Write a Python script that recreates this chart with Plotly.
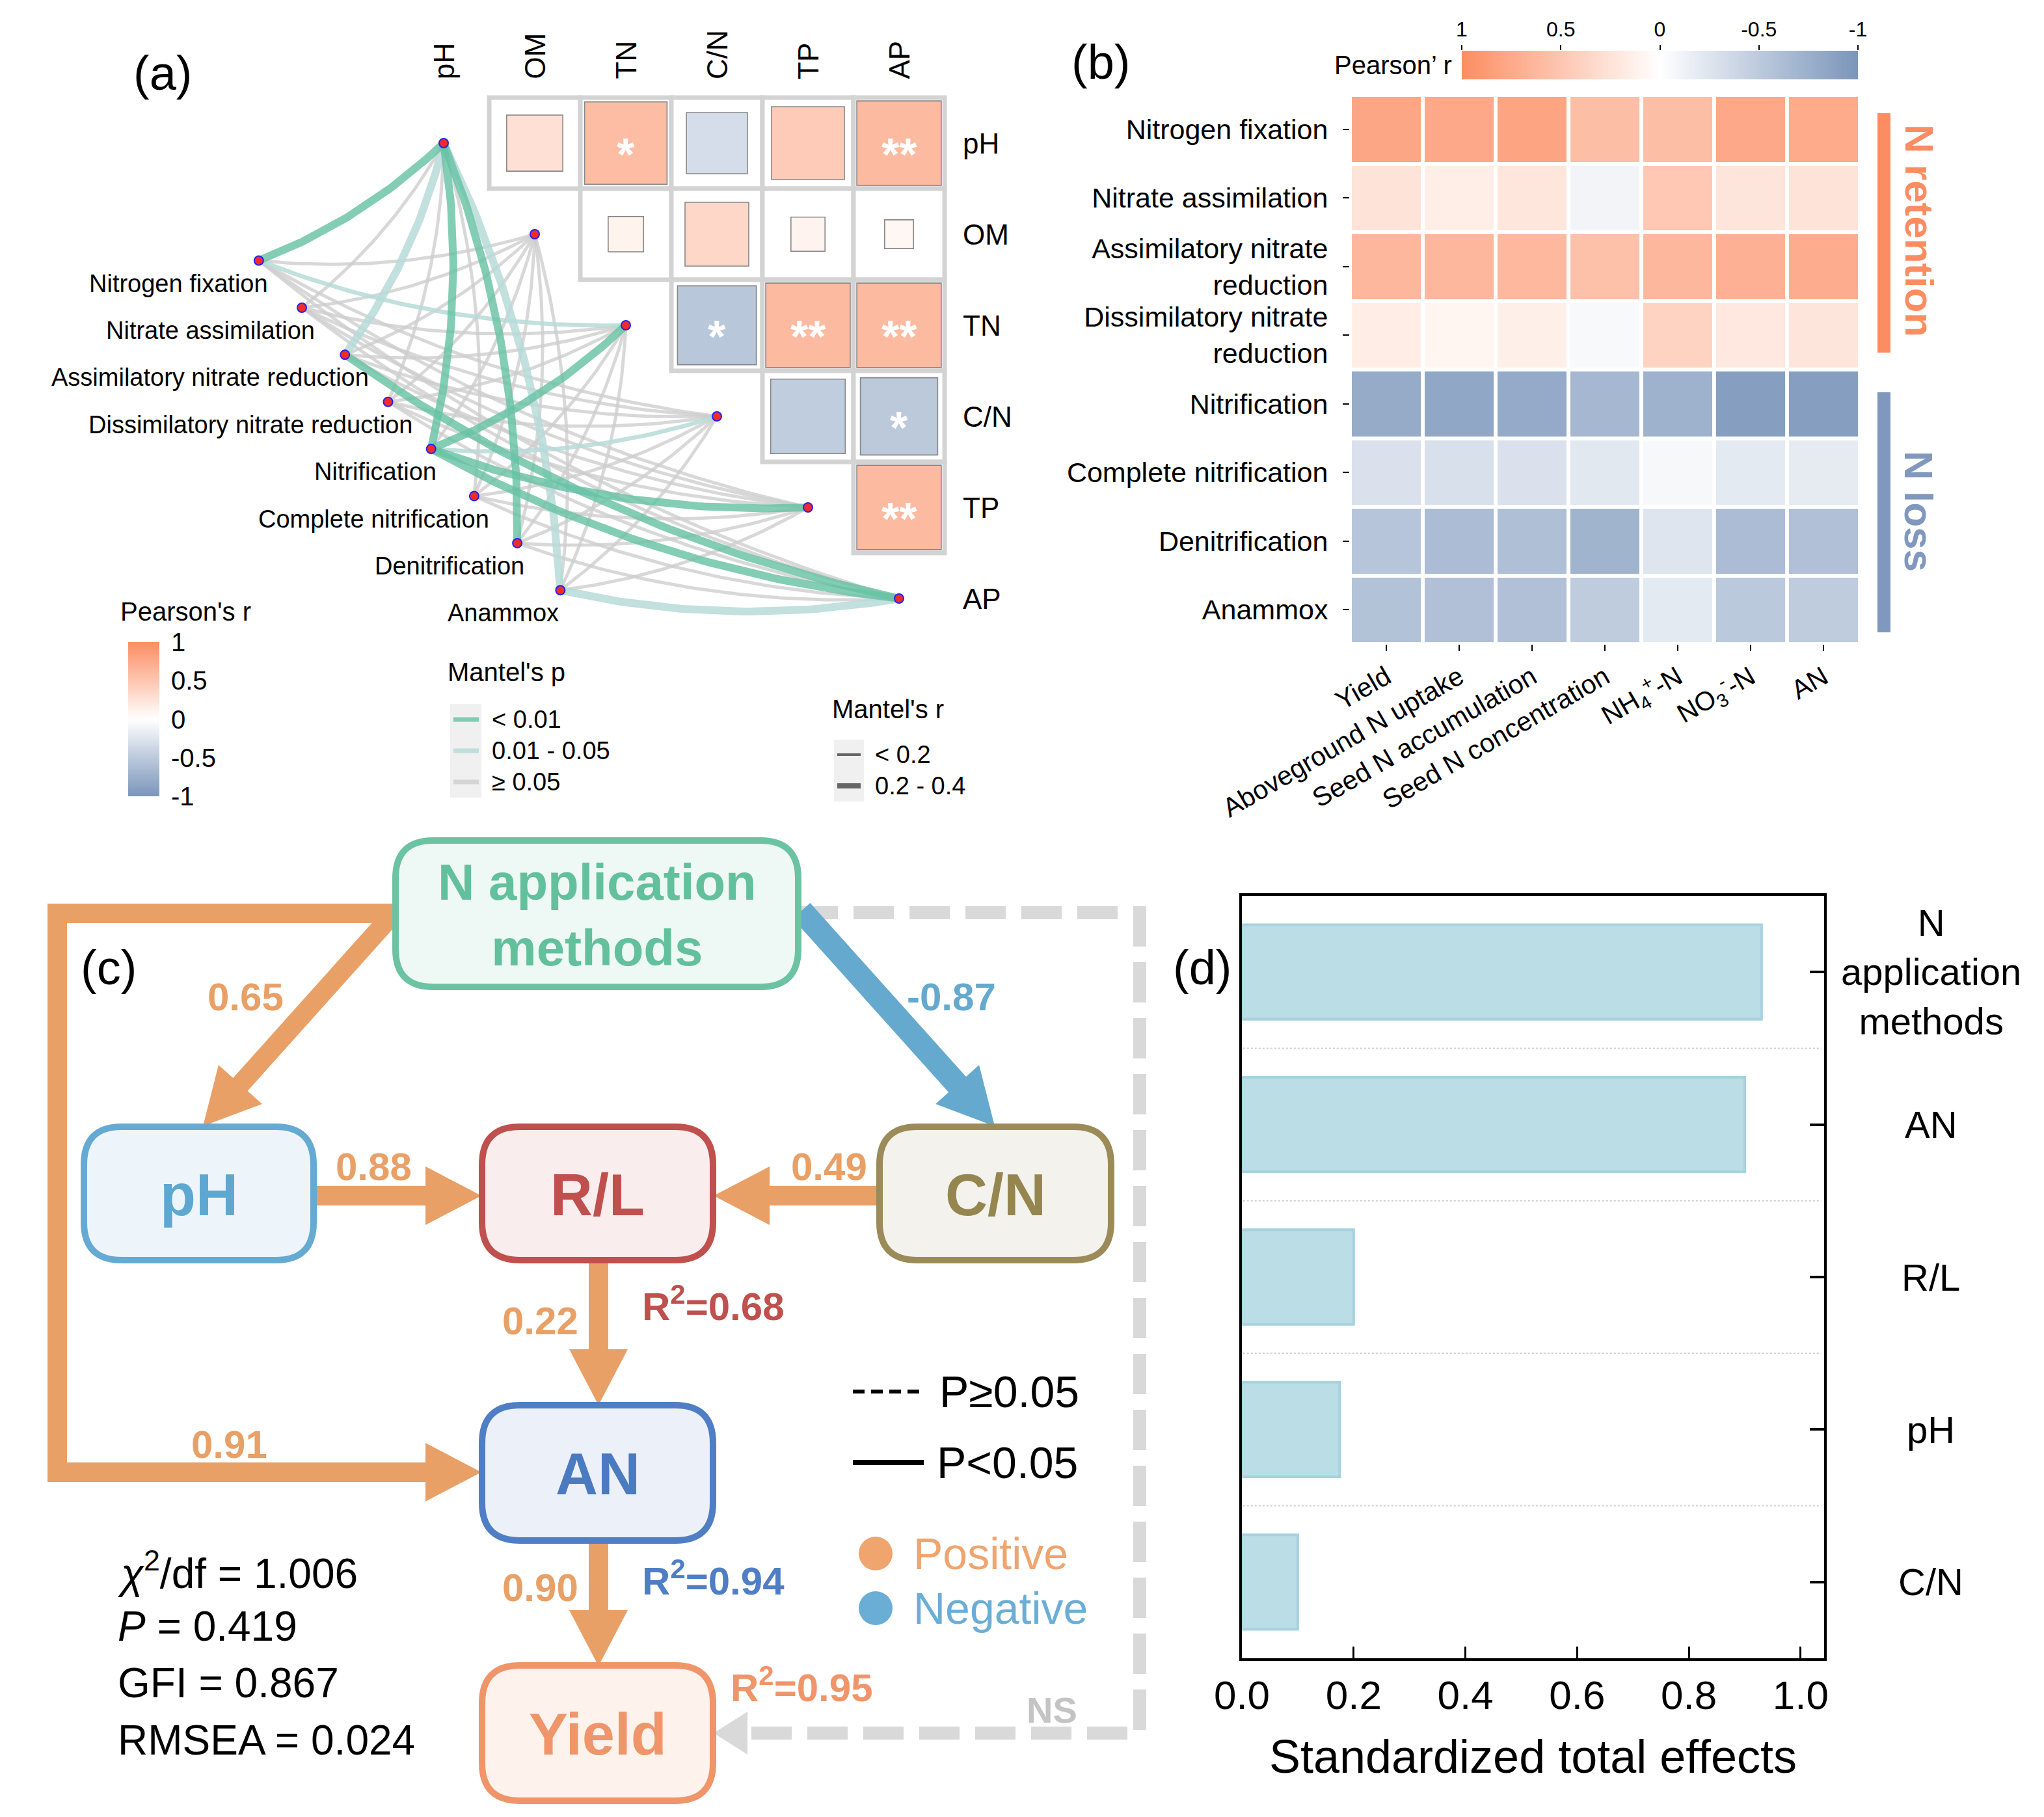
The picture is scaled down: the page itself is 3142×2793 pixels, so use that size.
import numpy as np
import plotly.graph_objects as go

W, H = 3142, 2793
FONT = "Liberation Sans, Arial, Helvetica, sans-serif"


def PX(x):
    return x / W


def PY(y):
    return 1 - y / H


# ===================== DATA =====================
# ---- Panel (a): soil property correlations (upper triangle) ----
env_vars = ["pH", "OM", "TN", "C/N", "TP", "AP"]
env_r = [
    [None, 0.38, 0.82, -0.45, 0.64, 0.86],
    [None, None, 0.15, 0.49, 0.14, 0.10],
    [None, None, None, -0.75, 0.86, 0.86],
    [None, None, None, None, -0.67, -0.72],
    [None, None, None, None, None, 0.86],
]
env_sig = [
    ["", "", "*", "", "", "**"],
    ["", "", "", "", "", ""],
    ["", "", "", "*", "**", "**"],
    ["", "", "", "", "", "*"],
    ["", "", "", "", "", "**"],
]
func_names = ["Nitrogen fixation", "Nitrate assimilation", "Assimilatory nitrate reduction",
              "Dissimilatory nitrate reduction", "Nitrification", "Complete nitrification",
              "Denitrification", "Anammox"]
# Mantel's p class per function (rows) x soil property (cols: pH, OM, TN, C/N, TP, AP)
mantel_p = [
    ["<0.01", ">=0.05", "0.01-0.05", ">=0.05", ">=0.05", ">=0.05"],
    [">=0.05", ">=0.05", ">=0.05", ">=0.05", ">=0.05", ">=0.05"],
    ["0.01-0.05", ">=0.05", ">=0.05", ">=0.05", ">=0.05", "<0.01"],
    [">=0.05", ">=0.05", ">=0.05", ">=0.05", ">=0.05", ">=0.05"],
    ["<0.01", ">=0.05", "<0.01", "0.01-0.05", "<0.01", "<0.01"],
    [">=0.05", ">=0.05", ">=0.05", ">=0.05", ">=0.05", ">=0.05"],
    ["<0.01", ">=0.05", ">=0.05", ">=0.05", ">=0.05", ">=0.05"],
    ["0.01-0.05", ">=0.05", ">=0.05", ">=0.05", ">=0.05", "0.01-0.05"],
]
# Mantel's r class
mantel_r = [
    ["0.2-0.4", "<0.2", "<0.2", "<0.2", "<0.2", "<0.2"],
    ["<0.2", "<0.2", "<0.2", "<0.2", "<0.2", "<0.2"],
    ["0.2-0.4", "<0.2", "<0.2", "<0.2", "<0.2", "0.2-0.4"],
    ["<0.2", "<0.2", "<0.2", "<0.2", "<0.2", "<0.2"],
    ["0.2-0.4", "<0.2", "0.2-0.4", "<0.2", "0.2-0.4", "0.2-0.4"],
    ["<0.2", "<0.2", "<0.2", "<0.2", "<0.2", "<0.2"],
    ["0.2-0.4", "<0.2", "<0.2", "<0.2", "<0.2", "<0.2"],
    ["0.2-0.4", "<0.2", "<0.2", "<0.2", "<0.2", "0.2-0.4"],
]

# ---- Panel (b): functions vs yield / N variables ----
b_rows = ["Nitrogen fixation", "Nitrate assimilation", "Assimilatory nitrate<br>reduction",
          "Dissimilatory nitrate<br>reduction", "Nitrification", "Complete nitrification",
          "Denitrification", "Anammox"]
b_cols = ["Yield", "Aboveground N uptake", "Seed N accumulation", "Seed N concentration",
          "NH<sub>4</sub><sup>+</sup>-N", "NO<sub>3</sub><sup>-</sup>-N", "AN"]
b_r = [
    [0.78, 0.76, 0.79, 0.57, 0.57, 0.76, 0.74],
    [0.25, 0.15, 0.22, -0.10, 0.48, 0.23, 0.25],
    [0.63, 0.63, 0.62, 0.55, 0.63, 0.69, 0.72],
    [0.16, 0.09, 0.14, -0.06, 0.39, 0.20, 0.23],
    [-0.79, -0.83, -0.80, -0.67, -0.73, -0.91, -0.91],
    [-0.28, -0.29, -0.28, -0.22, -0.07, -0.20, -0.19],
    [-0.55, -0.63, -0.60, -0.71, -0.25, -0.63, -0.59],
    [-0.58, -0.59, -0.59, -0.48, -0.20, -0.51, -0.48],
]
colorbar_ticks = [1, 0.5, 0, -0.5, -1]
colorbar_ramp = np.linspace(-1, 1, 241)

# ---- Panel (c): SEM ----
sem_paths = [
    ("Napp", "pH", 0.65),
    ("Napp", "CN", -0.87),
    ("pH", "RL", 0.88),
    ("CN", "RL", 0.49),
    ("RL", "AN", 0.22),
    ("Napp", "AN", 0.91),
    ("AN", "Yield", 0.90),
]
sem_r2 = {"RL": 0.68, "AN": 0.94, "Yield": 0.95}
fit_chi2df, fit_p, fit_gfi, fit_rmsea = 1.006, 0.419, 0.867, 0.024

# ---- Panel (d): standardized total effects ----
eff_vars = ["N<br>application<br>methods", "AN", "R/L", "pH", "C/N"]
eff_vals = [0.93, 0.90, 0.20, 0.175, 0.10]

# ===================== STYLE =====================
corr_scale = [[0.0, "#7a95ba"], [0.5, "#ffffff"], [1.0, "#fc8d62"]]
C_ORANGE = "#e9a066"
C_BLUE = "#65a9cf"

fig = go.Figure()
shapes = []
annos = []


def text(x, y, s, size, color="black", xanchor="center", yanchor="middle", bold=False,
         xref="paper", yref="paper", angle=0, align="center", xshift=0, yshift=0):
    if bold:
        s = "<b>" + s + "</b>"
    if xref == "paper":
        x = PX(x)
    if yref == "paper":
        y = PY(y)
    annos.append(dict(x=x, y=y, xref=xref, yref=yref, text=s, showarrow=False,
                      font=dict(family=FONT, size=size, color=color), xanchor=xanchor,
                      yanchor=yanchor, textangle=angle, align=align, xshift=xshift,
                      yshift=yshift))


# ===================== PANEL (a) =====================
CELL = 140.0
OX, OY = 682.0, 220.0
n_env = len(env_vars)
env_pos = [(float(i), float(i)) for i in range(n_env)]
func_pos = [(-2.03 + 0.473 * k, 1.29 + 0.517 * k) for k in range(len(func_names))]


def curve(p0, p2, k=0.1, n=60):
    p0 = np.array(p0)
    p2 = np.array(p2)
    d = p2 - p0
    perp = np.array([-d[1], d[0]])
    c = (p0 + p2) / 2 + k * perp
    t = np.linspace(0, 1, n)[:, None]
    pts = (1 - t) ** 2 * p0 + 2 * (1 - t) * t * c + t ** 2 * p2
    return pts[:, 0], pts[:, 1]


p_color = {"<0.01": "rgba(104,194,165,0.82)", "0.01-0.05": "rgba(182,219,216,0.85)",
           ">=0.05": "rgba(205,205,205,0.78)"}
r_width = {"<0.2": 5, "0.2-0.4": 12}

for pcls in [">=0.05", "0.01-0.05", "<0.01"]:
    for k in range(len(func_names)):
        for j in range(n_env):
            if mantel_p[k][j] != pcls:
                continue
            xs, ys = curve(func_pos[k], env_pos[j])
            wdt = r_width[mantel_r[k][j]]
            if pcls != ">=0.05" and mantel_r[k][j] == "<0.2":
                wdt = 6.5
            fig.add_trace(go.Scatter(x=xs, y=ys, mode="lines", xaxis="x", yaxis="y",
                                     line=dict(color=p_color[pcls], width=wdt),
                                     hoverinfo="skip"))

# grid cells
for i in range(n_env - 1):
    for j in range(i + 1, n_env):
        shapes.append(dict(type="rect", xref="x", yref="y", x0=j - 0.5, x1=j + 0.5,
                           y0=i - 0.5, y1=i + 0.5, line=dict(color="#d3d3d3", width=7),
                           fillcolor="white", layer="below"))

sq_x, sq_y, sq_r, sq_s = [], [], [], []
for i in range(n_env - 1):
    for j in range(i + 1, n_env):
        r = env_r[i][j]
        sq_x.append(j)
        sq_y.append(i)
        sq_r.append(r)
        sq_s.append(CELL * np.sqrt(abs(r)))
        if env_sig[i][j]:
            annos.append(dict(x=j, y=i, xref="x", yref="y", text="<b>" + env_sig[i][j] + "</b>",
                              showarrow=False, font=dict(family=FONT, size=70, color="white"),
                              yshift=-18))
fig.add_trace(go.Scatter(x=sq_x, y=sq_y, mode="markers", xaxis="x", yaxis="y",
                         marker=dict(symbol="square", size=sq_s, color=sq_r, coloraxis="coloraxis",
                                     line=dict(color="#555555", width=1.6)),
                         hoverinfo="skip"))

# nodes
node_x = [p[0] for p in func_pos] + [p[0] for p in env_pos]
node_y = [p[1] for p in func_pos] + [p[1] for p in env_pos]
fig.add_trace(go.Scatter(x=node_x, y=node_y, mode="markers", xaxis="x", yaxis="y",
                         marker=dict(size=14, color="#f42a2a", line=dict(color="#2b1ff0", width=2)),
                         hoverinfo="skip"))

for k, name in enumerate(func_names):
    est_w = 16.3 * len(name)
    annos.append(dict(x=func_pos[k][0], y=func_pos[k][1], xref="x", yref="y", text=name,
                      showarrow=False, font=dict(family=FONT, size=38, color="black"),
                      xanchor="right", yanchor="middle", xshift=-11.6 + 0.102 * est_w, yshift=-35))
for j, name in enumerate(env_vars):
    annos.append(dict(x=j, y=(124 - OY) / CELL, xref="x", yref="y", text=name, showarrow=False,
                      font=dict(family=FONT, size=44, color="black"), textangle=-90,
                      xanchor="center", yanchor="bottom"))
    annos.append(dict(x=(1478 - OX) / CELL, y=j, xref="x", yref="y", text=name, showarrow=False,
                      font=dict(family=FONT, size=44, color="black"), xanchor="left",
                      yanchor="middle"))

text(250, 112, "(a)", 74)

# colour key of panel (a): vertical ramp on its own small axis
fig.add_trace(go.Heatmap(z=[[v] for v in colorbar_ramp], x=[0], y=colorbar_ramp, xaxis="x5",
                         yaxis="y5", coloraxis="coloraxis", hoverinfo="skip"))

# legends of panel (a)
text(183, 940, "Pearson's r", 40, xanchor="left")
text(686, 1033, "Mantel's p", 40, xanchor="left")
shapes.append(dict(type="rect", xref="paper", yref="paper", x0=PX(692), x1=PX(740), y0=PY(1082),
                   y1=PY(1226), line=dict(width=0), fillcolor="#f0f0f0"))
for yy, col, lab in [(1106, p_color["<0.01"], "< 0.01"), (1154, p_color["0.01-0.05"], "0.01 - 0.05"),
                     (1202, p_color[">=0.05"], "≥ 0.05")]:
    shapes.append(dict(type="line", xref="paper", yref="paper", x0=PX(697), x1=PX(736),
                       y0=PY(yy), y1=PY(yy), line=dict(color=col, width=7)))
    text(754, yy, lab, 38, xanchor="left")
text(1277, 1090, "Mantel's r", 40, xanchor="left")
shapes.append(dict(type="rect", xref="paper", yref="paper", x0=PX(1282), x1=PX(1328), y0=PY(1137),
                   y1=PY(1232), line=dict(width=0), fillcolor="#f0f0f0"))
for yy, wdt, lab in [(1160, 4, "< 0.2"), (1208, 8, "0.2 - 0.4")]:
    shapes.append(dict(type="line", xref="paper", yref="paper", x0=PX(1287), x1=PX(1323),
                       y0=PY(yy), y1=PY(yy), line=dict(color="#666666", width=wdt)))
    text(1343, yy, lab, 38, xanchor="left")

# ===================== PANEL (b) =====================
fig.add_trace(go.Heatmap(z=b_r, x=b_cols, y=b_rows, xaxis="x2", yaxis="y2", coloraxis="coloraxis",
                         xgap=6, ygap=6, hoverinfo="skip"))
fig.add_trace(go.Heatmap(z=[colorbar_ramp], x=colorbar_ramp, y=[0], xaxis="x4", yaxis="y4",
                         coloraxis="coloraxis", hoverinfo="skip"))
text(1692, 95, "(b)", 74)
text(2234, 100, "Pearson’ r", 40, xanchor="right")
shapes.append(dict(type="rect", xref="paper", yref="paper", x0=PX(2886), x1=PX(2906), y0=PY(174),
                   y1=PY(542), line=dict(width=0), fillcolor="#fc8d62"))
shapes.append(dict(type="rect", xref="paper", yref="paper", x0=PX(2886), x1=PX(2906), y0=PY(603),
                   y1=PY(972), line=dict(width=0), fillcolor="#8098bd"))
text(2950, 354, "N retention", 62, color="#fc8d62", bold=True, angle=90)
text(2950, 786, "N loss", 62, color="#8098bd", bold=True, angle=90)

# ===================== PANEL (c) =====================
boxes = {
    "Napp": dict(x0=608, y0=1292, x1=1227, y1=1517, line="#6cc3a2", fill="#eef8f4", tc="#63c09c",
                 label="N application<br>methods", size=78),
    "pH": dict(x0=129, y0=1732, x1=482, y1=1937, line="#65aad2", fill="#eef5fa", tc="#5ea7d1",
               label="pH", size=90),
    "RL": dict(x0=741, y0=1732, x1=1096, y1=1937, line="#c0504d", fill="#f9eded", tc="#c0504d",
               label="R/L", size=90),
    "CN": dict(x0=1352, y0=1732, x1=1708, y1=1937, line="#9b8b59", fill="#f3f2ec", tc="#958650",
               label="C/N", size=90),
    "AN": dict(x0=741, y0=2160, x1=1096, y1=2368, line="#4f7ec4", fill="#ecf0f8", tc="#4a7bc1",
               label="AN", size=90),
    "Yield": dict(x0=741, y0=2560, x1=1096, y1=2768, line="#f0956a", fill="#fdf2ec", tc="#f0956a",
                  label="Yield", size=90),
}


def pt(x, y):
    return f"{PX(x):.6f},{PY(y):.6f}"


def rrect_path(x0, y0, x1, y1, r):
    return ("M " + pt(x0 + r, y0) + " L " + pt(x1 - r, y0) + " Q " + pt(x1, y0) + " " + pt(x1, y0 + r)
            + " L " + pt(x1, y1 - r) + " Q " + pt(x1, y1) + " " + pt(x1 - r, y1)
            + " L " + pt(x0 + r, y1) + " Q " + pt(x0, y1) + " " + pt(x0, y1 - r)
            + " L " + pt(x0, y0 + r) + " Q " + pt(x0, y0) + " " + pt(x0 + r, y0) + " Z")


def arrow(points, color, width, head_len, head_w, dash=None):
    pts = [np.array(p, float) for p in points]
    tip = pts[-1]
    prev = pts[-2]
    d = tip - prev
    u = d / np.linalg.norm(d)
    base = tip - u * head_len
    shaft = pts[:-1] + [base + u * 3]
    path = "M " + " L ".join(pt(p[0], p[1]) for p in shaft)
    line = dict(color=color, width=width)
    if dash:
        line["dash"] = dash
    shapes.append(dict(type="path", path=path, xref="paper", yref="paper", line=line,
                       fillcolor="rgba(0,0,0,0)", layer="above"))
    nrm = np.array([-u[1], u[0]])
    p1 = base + nrm * head_w / 2
    p2 = base - nrm * head_w / 2
    tri = "M " + pt(*tip) + " L " + pt(*p1) + " L " + pt(*p2) + " Z"
    shapes.append(dict(type="path", path=tri, xref="paper", yref="paper", line=dict(width=0),
                       fillcolor=color, layer="above"))


# arrow routes (layout)
routes = {
    ("Napp", "pH"): [(606, 1403), (312, 1731)],
    ("Napp", "CN"): [(1232, 1400), (1529, 1731)],
    ("pH", "RL"): [(480, 1838), (740, 1838)],
    ("CN", "RL"): [(1354, 1838), (1097, 1838)],
    ("RL", "AN"): [(920, 1935), (920, 2160)],
    ("Napp", "AN"): [(612, 1404), (88, 1404), (88, 2263), (740, 2263)],
    ("AN", "Yield"): [(920, 2366), (920, 2561)],
}
coef_pos = {
    ("Napp", "pH"): (377, 1532),
    ("Napp", "CN"): (1462, 1532),
    ("pH", "RL"): (574, 1793),
    ("CN", "RL"): (1274, 1793),
    ("RL", "AN"): (830, 2030),
    ("Napp", "AN"): (352, 2220),
    ("AN", "Yield"): (830, 2440),
}
# dashed non-significant path
arrow([(1226, 1403), (1752, 1403), (1752, 2664), (1097, 2664)], "#d9d9d9", 20, 52, 66,
      dash="62px,24px")
for a, b, v in sem_paths:
    col = C_ORANGE if v > 0 else C_BLUE
    wdt = 30 if v > 0 else 36
    arrow(routes[(a, b)], col, wdt, 86, 90)
    tx, ty = coef_pos[(a, b)]
    text(tx, ty, f"{v:.2f}", 60, color=col, bold=True)

for key, bx in boxes.items():
    shapes.append(dict(type="path", path=rrect_path(bx["x0"], bx["y0"], bx["x1"], bx["y1"], 58),
                       xref="paper", yref="paper", line=dict(color=bx["line"], width=10),
                       fillcolor=bx["fill"], layer="above"))
    text((bx["x0"] + bx["x1"]) / 2, (bx["y0"] + bx["y1"]) / 2 + 2, bx["label"], bx["size"],
         color=bx["tc"], bold=True)

r2_pos = {"RL": (1096, 2004, "#c0504d"), "AN": (1096, 2426, "#4f7ec4"), "Yield": (1232, 2590, "#f0956a")}
for key, v in sem_r2.items():
    x, y, c = r2_pos[key]
    text(x, y, f"R<sup>2</sup>={v:.2f}", 60, color=c, bold=True)
text(1617, 2628, "NS", 56, color="#c4c4c4", bold=True)
text(167, 1487, "(c)", 74)

text(179, 2414, f"<i>χ</i><sup>2</sup>/df = {fit_chi2df:.3f}", 64, xanchor="left")
text(179, 2500, f"<i>P</i> = {fit_p:.3f}", 64, xanchor="left")
text(179, 2587, f"GFI = {fit_gfi:.3f}", 64, xanchor="left")
text(179, 2675, f"RMSEA = {fit_rmsea:.3f}", 64, xanchor="left")

shapes.append(dict(type="line", xref="paper", yref="paper", x0=PX(1311), x1=PX(1420), y0=PY(2139),
                   y1=PY(2139), line=dict(color="black", width=6, dash="18px,10px")))
text(1442, 2139, "P≥0.05", 68, xanchor="left")
shapes.append(dict(type="line", xref="paper", yref="paper", x0=PX(1311), x1=PX(1420), y0=PY(2248),
                   y1=PY(2248), line=dict(color="black", width=8)))
text(1438, 2248, "P<0.05", 68, xanchor="left")
for yy, col, tcol, lab in [(2388, "#f0a46e", "#f0a46e", "Positive"), (2472, "#6aaed6", "#6aaed6", "Negative")]:
    shapes.append(dict(type="circle", xref="paper", yref="paper", x0=PX(1320), x1=PX(1372),
                       y0=PY(yy - 26), y1=PY(yy + 26), line=dict(width=0), fillcolor=col))
    text(1402, yy, lab, 68, color=tcol, xanchor="left")

# ===================== PANEL (d) =====================
fig.add_trace(go.Bar(x=eff_vals, y=eff_vars, orientation="h", xaxis="x3", yaxis="y3",
                     marker=dict(color="#badde6", line=dict(color="#a6d2de", width=4)),
                     hoverinfo="skip"))
for k in range(len(eff_vars) - 1):
    shapes.append(dict(type="line", xref="x3 domain", yref="y3", x0=0.002, x1=0.995,
                       y0=k + 0.5, y1=k + 0.5, line=dict(color="#cfcfcf", width=2, dash="dot"),
                       layer="below"))
for k, lab in enumerate(eff_vars):
    annos.append(dict(x=PX(2968), y=lab, xref="paper", yref="y3", text=lab, showarrow=False,
                      font=dict(family=FONT, size=58, color="black"), xanchor="center",
                      yanchor="middle", align="center"))
text(1848, 1487, "(d)", 74)

# ===================== LAYOUT =====================
fig.update_layout(
    template="none",
    width=W, height=H, margin=dict(l=0, r=0, t=0, b=0, pad=0, autoexpand=False),
    paper_bgcolor="white", plot_bgcolor="rgba(0,0,0,0)", showlegend=False,
    font=dict(family=FONT, color="black"),
    bargap=0.38,
    xaxis=dict(domain=[0, PX(1560)], range=[(0 - OX) / CELL, (1560 - OX) / CELL], visible=False,
               automargin=False),
    yaxis=dict(domain=[PY(1250), 1], range=[(1250 - OY) / CELL, (0 - OY) / CELL], visible=False,
               automargin=False),
    xaxis5=dict(domain=[PX(197), PX(245)], range=[-0.5, 0.5], visible=False, anchor="y5",
                automargin=False),
    yaxis5=dict(domain=[PY(1224), PY(987)], range=[-1, 1], side="right", anchor="x5",
                tickvals=[-1, -0.5, 0, 0.5, 1], ticktext=["-1", "-0.5", "0", "0.5", "1"],
                ticks="outside", ticklen=9, tickcolor="rgba(0,0,0,0)", tickfont=dict(size=40),
                showgrid=False, zeroline=False, showline=False, automargin=False),
    xaxis2=dict(domain=[PX(2075), PX(2859)], type="category", tickangle=-30, ticks="outside",
                ticklen=10, tickwidth=2, tickcolor="black", tickfont=dict(size=41),
                showgrid=False, zeroline=False, showline=False, anchor="y2", automargin=False),
    yaxis2=dict(domain=[PY(990), PY(146)], type="category", autorange="reversed", ticks="outside",
                ticklen=10, tickwidth=2, tickcolor="black", tickfont=dict(size=43),
                showgrid=False, zeroline=False, showline=False, anchor="x2",
                ticklabelstandoff=14, automargin=False),
    xaxis4=dict(domain=[PX(2247), PX(2856)], range=[1, -1], side="top", ticks="outside",
                ticklen=8, tickwidth=2, tickcolor="black", tickvals=colorbar_ticks,
                ticktext=[f"{t:g}" for t in colorbar_ticks], tickfont=dict(size=32),
                showgrid=False, zeroline=False, showline=False, anchor="y4", automargin=False),
    yaxis4=dict(domain=[PY(122), PY(78)], visible=False, anchor="x4", range=[-0.5, 0.5],
                automargin=False),
    xaxis3=dict(domain=[PX(1909), PX(2804)], range=[0, 1.042], tickvals=[0, 0.2, 0.4, 0.6, 0.8, 1.0],
                ticktext=["0.0", "0.2", "0.4", "0.6", "0.8", "1.0"], ticks="inside", ticklen=18,
                tickwidth=3, tickcolor="black", tickfont=dict(size=62), showline=True,
                linecolor="black", linewidth=4, mirror=True, showgrid=False, zeroline=False,
                title=dict(text="Standardized total effects", font=dict(size=72), standoff=36),
                anchor="y3", automargin=False),
    yaxis3=dict(domain=[PY(2549), PY(1377)], type="category", autorange="reversed", side="right",
                ticks="inside", ticklen=22, tickwidth=4, tickcolor="black", showticklabels=False,
                showline=True, linecolor="black", linewidth=4, mirror=True, showgrid=False,
                zeroline=False, anchor="x3", automargin=False),
    coloraxis=dict(cmin=-1, cmax=1, colorscale=corr_scale, showscale=False),
    shapes=shapes,
    annotations=annos,
)

fig.write_html("out.html", config=dict(displayModeBar=False),
               post_script="document.body.style.margin='0px';")
